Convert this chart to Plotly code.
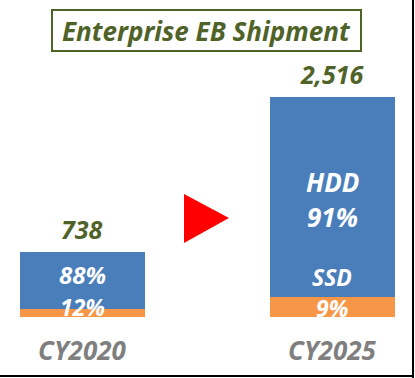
import plotly.graph_objects as go

years = ["CY2020", "CY2025"]
totals = [738, 2516]
ssd_eb = [89, 226]
hdd_eb = [649, 2290]
hdd_pct = ["88%", "91%"]
ssd_pct = ["12%", "9%"]
title_text = "Enterprise EB Shipment"

BLUE = "#4a7ebb"
ORANGE = "#f79646"
GREEN = "#4f6228"
GRAY = "#7f7f7f"
FONT = "Open Sans"

fig = go.Figure()
fig.add_trace(go.Bar(x=years, y=ssd_eb, marker=dict(color=ORANGE, line=dict(width=0)),
                     width=0.5, name="SSD", hoverinfo="skip"))
fig.add_trace(go.Bar(x=years, y=hdd_eb, marker=dict(color=BLUE, line=dict(width=0)),
                     width=0.5, name="HDD", hoverinfo="skip"))

ann = []
for x, t in zip(years, totals):
    ann.append(dict(x=x, y=t, xref="x", yref="y", text="<b><i>%s</i></b>" % f"{t:,}",
                    showarrow=False, yanchor="bottom", yshift=4,
                    font=dict(family=FONT, size=25, color=GREEN)))
for x in years:
    ann.append(dict(x=x, y=0, xref="x", yref="y", text="<b><i>%s</i></b>" % x,
                    showarrow=False, yanchor="middle", yshift=-33,
                    font=dict(family=FONT, size=26, color=GRAY)))

def wfont(s):
    return dict(family=FONT, size=s, color="white")

ann.append(dict(x=years[0], y=ssd_eb[0] + hdd_eb[0] / 2 + 67, xref="x", yref="y",
                text="<b><i>%s</i></b>" % hdd_pct[0], showarrow=False, font=wfont(24), borderpad=0))
ann.append(dict(x=years[0], y=ssd_eb[0] + 24, xref="x", yref="y",
                text="<b><i>%s</i></b>" % ssd_pct[0], showarrow=False, font=wfont(23), borderpad=0))
ann.append(dict(x=years[1], y=ssd_eb[1] + hdd_eb[1] * 0.575, xref="x", yref="y",
                text="<b><i>HDD</i></b>", showarrow=False, font=wfont(26)))
ann.append(dict(x=years[1], y=ssd_eb[1] + hdd_eb[1] * 0.40, xref="x", yref="y",
                text="<b><i>%s</i></b>" % hdd_pct[1], showarrow=False, font=wfont(26)))
ann.append(dict(x=years[1], y=ssd_eb[1] + hdd_eb[1] * 0.10, xref="x", yref="y",
                text="<b><i>SSD</i></b>", showarrow=False, font=wfont(23)))
ann.append(dict(x=years[1], y=ssd_eb[1] * 0.45, xref="x", yref="y",
                text="<b><i>%s</i></b>" % ssd_pct[1], showarrow=False, font=wfont(23)))
ann.append(dict(x=206 / 415, y=(378 - 31) / 378, xref="paper", yref="paper",
                text="<b><i>%s</i></b>" % title_text, showarrow=False,
                xanchor="center", yanchor="middle", width=305, height=37,
                bordercolor=GREEN, borderwidth=2, borderpad=1, bgcolor="white",
                font=dict(family=FONT, size=26, color=GREEN)))

shapes = [
    dict(type="path", xref="paper", yref="paper",
         path="M %f %f L %f %f L %f %f Z" % (184 / 415, 184 / 378, 229 / 415, 160 / 378, 184 / 415, 135 / 378),
         fillcolor="#ff0000", line=dict(width=0)),
    dict(type="line", xref="paper", yref="paper", x0=413 / 415, x1=413 / 415, y0=0, y1=1,
         line=dict(color="black", width=2)),
    dict(type="line", xref="paper", yref="paper", x0=0, x1=413 / 415, y0=2 / 378, y1=2 / 378,
         line=dict(color="black", width=2)),
]

fig.update_layout(
    barmode="stack", width=415, height=378,
    margin=dict(l=0, r=0, t=0, b=0),
    paper_bgcolor="white", plot_bgcolor="white",
    showlegend=False,
    xaxis=dict(type="category", range=[-0.328, 1.332], visible=False, fixedrange=True),
    yaxis=dict(range=[-697, 3623], visible=False, fixedrange=True),
    annotations=ann, shapes=shapes,
)

fig.write_html("out.html", config={"displayModeBar": False},
               post_script="document.body.style.margin='0';document.body.style.overflow='hidden';")
